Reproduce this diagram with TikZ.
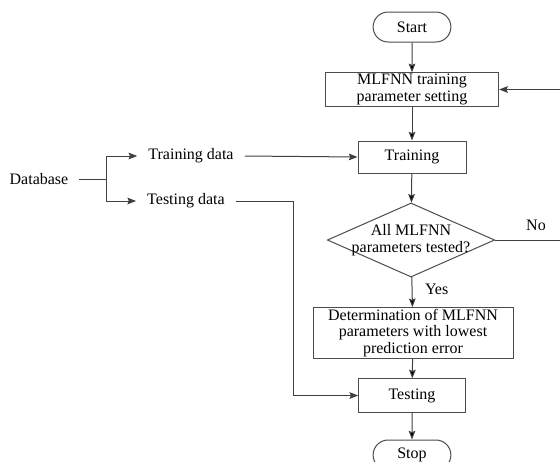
\documentclass[tikz,border=0pt]{standalone}
\usepackage{fontspec}
\setmainfont{Liberation Serif}
\usetikzlibrary{arrows.meta, shapes.geometric, shapes.misc}

\begin{document}
\begin{tikzpicture}[x=0.75pt, y=-0.75pt, >={Stealth[length=6.5pt,width=5pt,inset=1pt]},
    font=\fontsize{12}{12.5}\selectfont, line width=0.75pt]
  \tikzset{
    blank/.style={
      inner xsep=8pt,
      text centered},
    term/.style={
      rounded rectangle,
      draw=black!70,
      minimum width=65pt,
      minimum height=22.5pt,
      text centered},
    proc/.style={
      rectangle,
      draw=black!70,
      align=center,
      inner sep=1pt,
      text centered},
    decide/.style={
      diamond,
      draw=black!70,
      aspect=2.26,
      inner sep=-2.5pt,
      align=center},
    flow/.style={draw=black!75}}

  \useasboundingbox (0,0) rectangle (560,461);

  \node[term] (start) at (412,27) {Start};
  \node[proc, minimum width=130pt, minimum height=23pt] (setup) at (412,89.5)
    {MLFNN training\\parameter setting};
  \node[proc, minimum width=81pt, minimum height=24pt] (train) at (412,157) {Training};
  \node[decide] (check) at (411,240) {All MLFNN\\parameters tested?};
  \node[proc, minimum width=150pt, minimum height=36pt] (best) at (413,333)
    {Determination of MLFNN\\parameters with lowest\\prediction error};
  \node[proc, minimum width=80pt, minimum height=25pt] (test) at (412,395.5) {Testing};
  \node[term] (stop) at (412,455) {Stop};

  \node[blank] (db) at (39,179) {Database};
  \node[blank] (trdata) at (191,156) {Training data};
  \node[blank] (tedata) at (186,201) {Testing data};

  \coordinate (split) at (106,179);
  \coordinate (noend) at (560,240);
  \coordinate (back) at (560,89.5);

  % main flow
  \path[flow,->] (start) edge (setup);
  \path[flow,->] (setup) edge (train);
  \path[flow,->] (train) edge (check);
  \path[flow,->] (check) edge node[right=6pt, pos=0.4] {Yes} (best);
  \path[flow,->] (best) edge (test);
  \path[flow,->] (test) edge (stop);

  % loop back when not all tested
  \draw[flow] (check.east) -- node[above=3pt, pos=0.63] {No} (noend);
  \draw[flow,->] (back) -- (setup.east);

  % data split
  \draw[flow] (db.east) -- (split);
  \draw[flow,->] (split) |- (trdata.west);
  \draw[flow,->] (split) |- (tedata.west);
  \draw[flow,->] (trdata.east) -- (train.west);
  \draw[flow,->] (tedata.east) -- (293,201) |- (test.west);

\end{tikzpicture}
\end{document}
